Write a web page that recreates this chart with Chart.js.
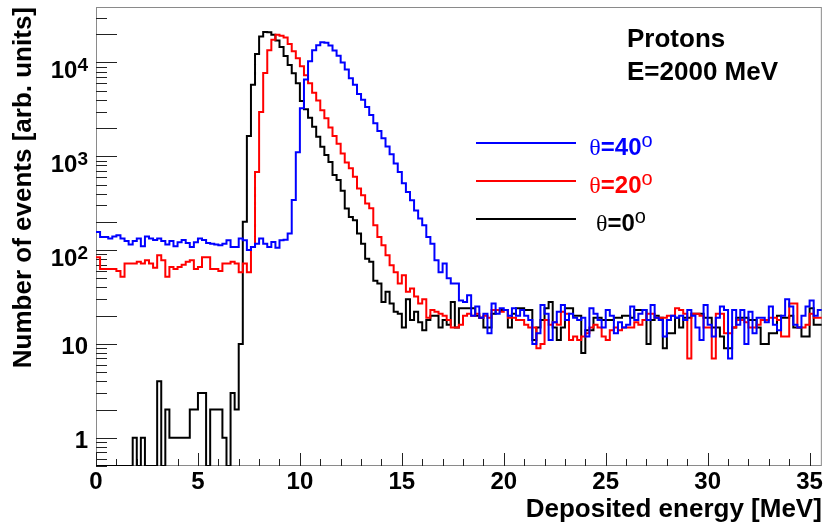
<!DOCTYPE html>
<html>
<head>
<meta charset="utf-8">
<title>Protons E=2000 MeV</title>
<script src="https://cdn.jsdelivr.net/npm/chart.js@4/dist/chart.umd.min.js"></script>
<style>
  html, body { margin: 0; padding: 0; background: #fff; }
  canvas { display: block; }
</style>
</head>
<body>
<canvas id="main_graph" width="825" height="529"></canvas>
<script>
// binning of the histograms: 178 bins of 0.2 MeV from 0 MeV
const binWidth = 0.2;
const xMin = 0;
const xMax = 35.6;
const yMin = 0.5;
const yMax = 39000;

// tick labels
const xTicks = [0, 5, 10, 15, 20, 25, 30, 35];
const yDecades = [0, 1, 2, 3, 4];

// bin contents (bin i = [0.2*i, 0.2*i+0.2) MeV)
const theta40 = [
  156, 138, 138, 133, 140, 144, 133, 125, 115, 125, 133, 110, 140, 133, 128, 133, 125, 115, 125, 110,
  121, 128, 119, 108, 121, 133, 128, 119, 117, 115, 113, 117, 127, 108, 108, 133, 127, 100, 108, 117,
  133, 117, 108, 122, 106, 127, 129, 150, 342, 1105, 3250, 6580, 10300, 13500, 15300, 16400, 16200, 15200, 13400, 11800,
  10000, 8400, 6800, 5800, 4600, 4000, 3350, 2750, 2250, 1860, 1560, 1270, 1050, 840, 680, 515, 415, 340, 265, 217,
  184, 138, 117, 78, 58, 72, 50, 44, 44, 29, 28, 33, 20, 25, 19, 21, 13, 27, 21, 24,
  23, 20, 24, 20, 23, 20, 18, 10, 13, 26, 21, 11, 17, 22, 26, 18, 21, 19, 18, 19,
  12, 24, 21, 18, 15, 23, 20, 13, 17, 15, 16, 25, 18, 21, 23, 18, 26, 19, 18, 12,
  18, 20, 19, 20, 18, 23, 20, 15, 11, 26, 16, 12, 19, 25, 23, 7, 23, 16, 23, 10,
  22, 13, 19, 19, 17, 25, 16, 14, 20, 30, 25, 16, 15, 20, 25, 29, 20, 23
];
const theta20 = [
  84, 63, 63, 63, 63, 60, 52, 72, 72, 72, 75, 72, 78, 72, 65, 88, 78, 52, 66, 63,
  66, 70, 75, 78, 63, 66, 84, 84, 63, 63, 60, 72, 72, 75, 72, 58, 72, 58, 108, 680,
  2960, 7700, 13500, 17500, 19700, 19300, 18400, 15700, 13200, 11100, 9100, 7300, 6000, 4750, 3930, 3100, 2540, 2030, 1650, 1360,
  1070, 860, 745, 605, 454, 385, 314, 280, 184, 138, 113, 88, 69, 58, 44, 54, 36, 39, 32, 27,
  30, 19, 23, 22, 21, 20, 18, 15, 15, 16, 20, 21, 20, 21, 19, 20, 19, 23, 23, 22,
  23, 19, 19, 18, 18, 16, 15, 15, 9, 10, 18, 16, 17, 16, 22, 21, 11, 12, 11, 12,
  13, 15, 16, 15, 12, 11, 14, 15, 14, 15, 15, 15, 17, 16, 18, 21, 21, 19, 19, 19,
  20, 20, 24, 23, 21, 7, 21, 21, 20, 15, 15, 7, 21, 21, 13, 13, 15, 18, 18, 17,
  15, 15, 16, 18, 18, 19, 19, 18, 12, 12, 27, 27, 15, 15, 16, 21, 19, 19
];
const theta0 = [
  0, 0, 0, 0, 0, 0, 0, 0, 0, 1, 0, 1, 0, 0, 0, 4, 0, 2, 1, 1,
  1, 1, 1, 2, 2, 3, 3, 0, 2, 2, 2, 1, 0, 3, 2, 10, 200, 1650, 5800, 12300,
  18900, 21100, 21000, 19700, 17100, 14600, 11750, 9420, 7690, 6010, 3890, 3170, 2580, 2065, 1615, 1260, 1030, 870, 630, 560,
  430, 277, 226, 208, 150, 117, 81, 75, 47, 44, 28, 36, 27, 22, 21, 15, 30, 18, 22, 17,
  14, 18, 20, 20, 15, 18, 16, 28, 15, 24, 24, 24, 24, 20, 19, 15, 15, 21, 23, 23,
  23, 15, 21, 24, 24, 23, 23, 11, 15, 18, 24, 28, 15, 11, 15, 24, 24, 20, 20, 8,
  14, 14, 19, 19, 18, 18, 18, 19, 19, 20, 20, 19, 23, 23, 23, 10, 18, 20, 19, 9,
  13, 13, 19, 15, 19, 19, 21, 21, 21, 19, 19, 15, 15, 12, 9, 9, 15, 19, 19, 19,
  18, 18, 15, 10, 10, 13, 13, 20, 19, 19, 20, 15, 15, 12, 12, 24, 16, 16
];

const seriesAngles = ['40', '20', '0'];
const seriesColors = ['#0000ff', '#ff0000', '#000000'];

const sans = '"Liberation Sans", Arial, Helvetica, sans-serif';
const serif = '"Liberation Serif", "Times New Roman", serif';
Chart.defaults.font.family = sans;
Chart.defaults.color = '#000';

// turn bin contents into left-edge points for a stepped line (empty bins sit on the axis)
let histPoints = function (counts) {
  let pts = counts.map(function (c, i) {
    return { x: i * binWidth, y: c > 0 ? c : yMin };
  });
  pts.push({ x: counts.length * binWidth, y: pts[pts.length - 1].y });
  return pts;
};

// ROOT-like frame, inner ticks, log labels, legend and text
let rootStyle = {
  id: 'rootStyle',
  beforeDatasetsDraw: function (chart) {
    let ctx = chart.ctx;
    let a = chart.chartArea;
    let x = chart.scales.x;
    let y = chart.scales.y;
    ctx.save();
    ctx.strokeStyle = '#8a8a8a';
    ctx.lineWidth = 1;
    ctx.strokeRect(a.left + 0.5, a.top + 0.5, a.right - a.left - 1, a.bottom - a.top - 1);

    ctx.strokeStyle = '#222';
    ctx.beginPath();
    for (let v = Math.ceil(xMin); v <= xMax; v++) {
      let px = Math.round(x.getPixelForValue(v)) + 0.5;
      let len = v % 5 === 0 ? 13 : 7;
      ctx.moveTo(px, a.bottom);
      ctx.lineTo(px, a.bottom - len);
    }
    for (let e = -1; e <= 4; e++) {
      for (let m = 1; m <= 9; m++) {
        let v = m * Math.pow(10, e);
        if (v < yMin || v > yMax) continue;
        let py = Math.round(y.getPixelForValue(v)) + 0.5;
        let len = (m === 1 || m === 2) ? 21 : 11;
        ctx.moveTo(a.left, py);
        ctx.lineTo(a.left + len, py);
      }
    }
    ctx.stroke();
    ctx.restore();
  },
  afterDraw: function (chart) {
    let ctx = chart.ctx;
    let y = chart.scales.y;
    ctx.save();
    ctx.fillStyle = '#000';
    ctx.textAlign = 'right';
    ctx.textBaseline = 'alphabetic';

    // y labels: 1, 10, 10^2 ...
    yDecades.forEach(function (e) {
      let py = y.getPixelForValue(Math.pow(10, e));
      if (e < 2) {
        ctx.font = 'bold 24px ' + sans;
        ctx.fillText(e === 0 ? '1' : '10', 88, py + 10);
      } else {
        ctx.font = 'bold 19px ' + sans;
        let ew = ctx.measureText(String(e)).width;
        ctx.fillText(String(e), 88, py + 9);
        ctx.font = 'bold 24px ' + sans;
        ctx.fillText('10', 88 - ew, py + 16);
      }
    });

    // text
    ctx.textAlign = 'left';
    ctx.font = 'bold 26px ' + sans;
    ctx.fillText('Protons', 627, 47);
    ctx.fillText('E=2000 MeV', 627, 80);

    // legend
    seriesAngles.forEach(function (ang, i) {
      let ly = 143 + i * 38;
      ctx.strokeStyle = seriesColors[i];
      ctx.lineWidth = 2;
      ctx.beginPath();
      ctx.moveTo(476, ly);
      ctx.lineTo(576, ly);
      ctx.stroke();

      let base = ly + 12;
      ctx.fillStyle = seriesColors[i];
      ctx.font = '24px ' + serif;
      let w1 = ctx.measureText('\u03b8').width;
      ctx.font = 'bold 24px ' + sans;
      let w2 = ctx.measureText('=' + ang).width;
      ctx.font = '20px ' + sans;
      let w3 = ctx.measureText('o').width;
      let sx = 621 - (w1 + w2 + w3) / 2;
      ctx.font = '24px ' + serif;
      ctx.fillText('\u03b8', sx, base);
      ctx.font = 'bold 24px ' + sans;
      ctx.fillText('=' + ang, sx + w1, base);
      ctx.font = '20px ' + sans;
      ctx.fillText('o', sx + w1 + w2, base - 8);
    });
    ctx.restore();
  }
};

let ctx = document.getElementById('main_graph').getContext('2d');
let datasetFor = function (counts, i) {
  return {
    label: '\u03b8=' + seriesAngles[i] + '\u00b0',
    data: histPoints(counts),
    borderColor: seriesColors[i],
    borderWidth: 2,
    stepped: true,
    pointRadius: 0,
    fill: false
  };
};

let chart = new Chart(ctx, {
  type: 'line',
  data: {
    datasets: [datasetFor(theta40, 0), datasetFor(theta20, 1), datasetFor(theta0, 2)]
  },
  options: {
    responsive: false,
    animation: false,
    events: [],
    layout: { padding: { top: 7, right: 3, left: 0, bottom: 0 } },
    plugins: { legend: { display: false }, tooltip: { enabled: false } },
    scales: {
      x: {
        type: 'linear',
        min: xMin,
        max: xMax,
        afterBuildTicks: function (s) {
          s.ticks = xTicks.map(function (v) { return { value: v }; });
        },
        afterFit: function (s) { s.height = 63; },
        grid: { display: false, drawTicks: false },
        border: { display: false },
        ticks: {
          autoSkip: false,
          maxRotation: 0,
          padding: 2,
          color: '#000',
          font: { size: 24, weight: 'bold' }
        },
        title: {
          display: true,
          text: 'Deposited energy [MeV]',
          align: 'end',
          color: '#000',
          font: { size: 26, weight: 'bold' },
          padding: { top: 0, bottom: 4 }
        }
      },
      y: {
        type: 'logarithmic',
        min: yMin,
        max: yMax,
        afterFit: function (s) { s.width = 96; },
        grid: { display: false, drawTicks: false },
        border: { display: false },
        ticks: { display: false },
        title: {
          display: true,
          text: 'Number of events [arb. units]',
          align: 'end',
          color: '#000',
          font: { size: 26, weight: 'bold' },
          padding: { top: 8, bottom: 0 }
        }
      }
    }
  },
  plugins: [rootStyle]
});
</script>
</body>
</html>
